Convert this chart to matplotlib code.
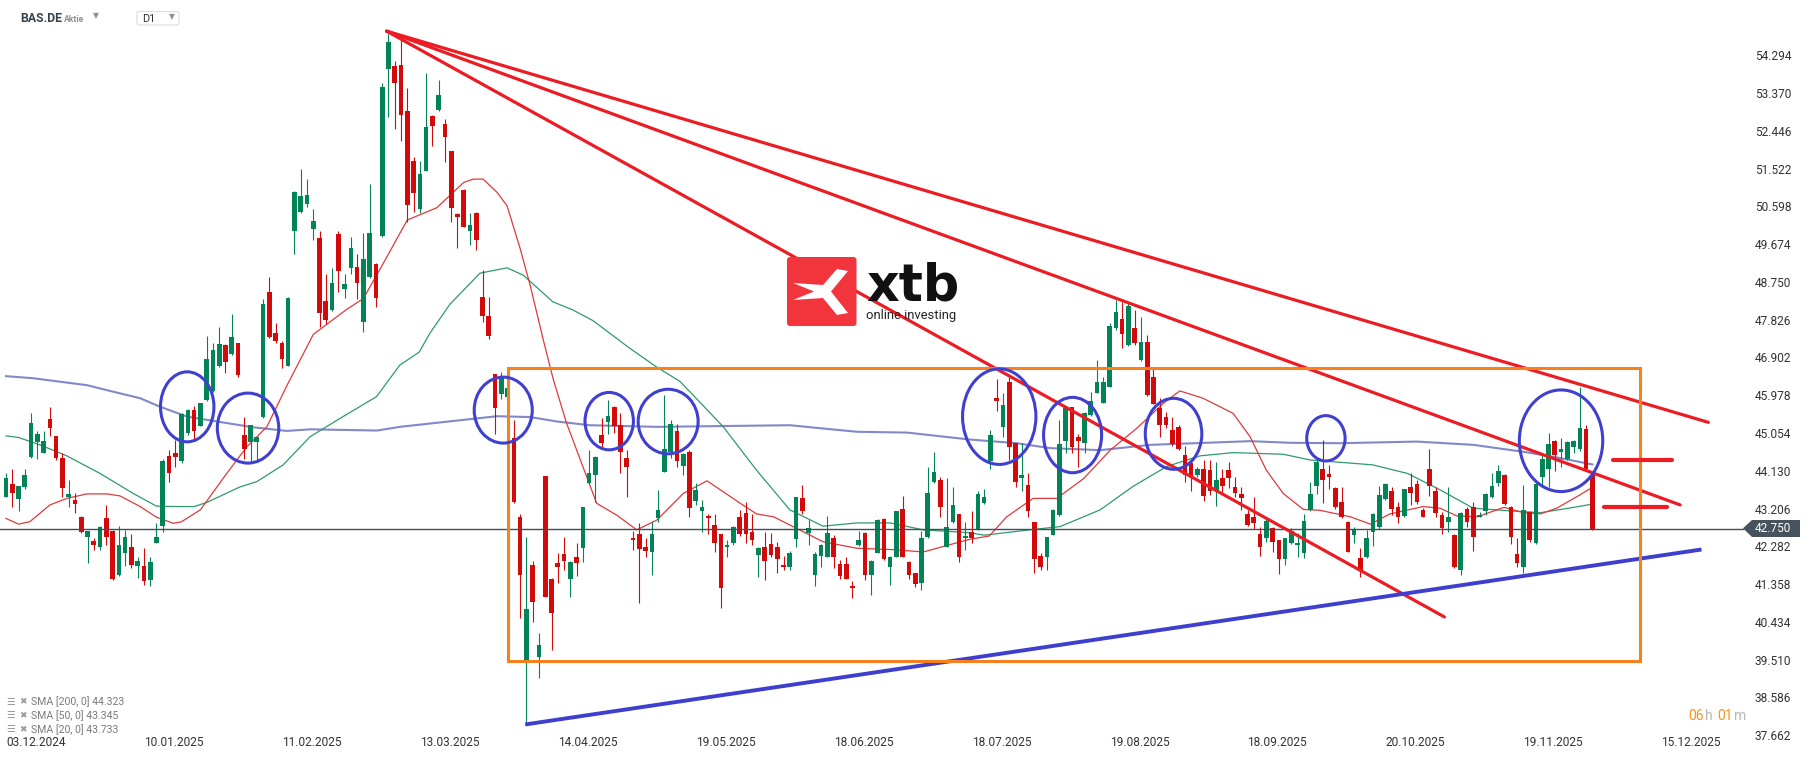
import matplotlib
matplotlib.use("Agg")
import matplotlib.pyplot as plt
from matplotlib.patches import Ellipse, Rectangle, Polygon, FancyBboxPatch
import numpy as np

# daily candles BAS.DE (first candle = 03.12.2024)
opens = [43.53, 43.84, 43.48, 43.76, 44.51, 44.88, 44.61, 45.42, 45.01, 44.47, 43.53, 43.45, 43.04, 42.55, 42.45, 42.31,
         43.01, 42.69, 41.62, 42.15, 42.31, 41.84, 41.84, 41.49, 42.41, 42.81, 44.53, 44.59, 44.41, 45.08, 45.65, 45.27,
         45.89, 46.11, 46.72, 47.24, 47.02, 47.28, 45.04, 44.88, 44.86, 45.48, 48.53, 47.54, 47.28, 46.73, 50.02, 50.49,
         50.69, 50.08, 49.86, 48.33, 48.10, 49.95, 48.62, 49.12, 49.15, 47.81, 48.90, 49.23, 49.91, 54.00, 54.06, 54.10,
         52.96, 51.74, 50.58, 51.50, 52.85, 52.99, 52.64, 51.98, 50.44, 51.04, 50.04, 50.47, 48.42, 47.96, 46.53, 46.04,
         45.98, 44.96, 43.03, 39.54, 41.86, 39.62, 44.04, 41.53, 41.92, 42.12, 41.53, 42.05, 42.27, 43.86, 44.06, 45.04,
         45.37, 45.72, 45.28, 44.49, 42.51, 42.62, 42.29, 42.19, 43.00, 44.14, 44.63, 45.15, 44.28, 44.63, 43.43, 43.17,
         43.06, 42.84, 42.62, 42.29, 42.39, 43.03, 43.14, 42.68, 42.11, 42.29, 42.37, 42.29, 41.86, 41.82, 42.49, 43.49,
         42.65, 41.62, 42.08, 42.06, 42.51, 41.88, 41.88, 41.35, 42.35, 42.65, 41.62, 42.16, 42.98, 41.82, 42.06, 43.22,
         41.94, 41.66, 41.41, 42.55, 43.90, 43.94, 42.31, 42.92, 43.11, 42.51, 42.67, 42.73, 43.37, 44.41, 45.94, 45.23,
         46.34, 44.84, 44.00, 43.82, 42.92, 42.07, 42.05, 42.59, 43.08, 44.90, 45.72, 45.00, 44.84, 45.53, 46.07, 45.83,
         46.22, 47.65, 47.89, 47.24, 47.67, 46.87, 47.32, 46.45, 45.69, 45.47, 45.16, 45.23, 44.55, 44.36, 44.06, 44.22,
         44.18, 43.68, 44.00, 44.18, 43.76, 43.60, 43.11, 43.03, 42.62, 42.51, 42.76, 42.46, 42.00, 42.39, 42.35, 42.16,
         43.21, 43.79, 44.22, 44.08, 43.74, 43.41, 42.92, 42.59, 42.02, 42.05, 42.68, 42.80, 43.47, 43.68, 43.29, 43.06,
         43.76, 43.84, 43.20, 44.22, 43.68, 43.08, 42.92, 42.59, 41.75, 43.22, 43.27, 43.04, 43.19, 43.52, 43.87, 44.06,
         43.29, 42.13, 41.80, 43.16, 42.39, 44.02, 44.22, 44.89, 44.63, 44.45, 44.75, 44.69, 45.18, 44.06]
highs = [44.10, 44.22, 43.80, 44.22, 45.57, 45.15, 45.14, 45.72, 45.02, 44.59, 43.94, 43.61, 43.06, 42.70, 42.51, 42.81,
         43.33, 42.72, 42.81, 42.72, 42.62, 42.06, 42.27, 42.06, 42.90, 44.45, 44.67, 44.92, 45.57, 45.67, 45.75, 45.83,
         47.46, 47.28, 47.69, 47.26, 48.01, 47.30, 45.48, 45.29, 44.99, 48.36, 48.90, 47.78, 47.35, 48.42, 51.01, 51.54,
         51.30, 50.58, 50.04, 48.99, 49.12, 50.04, 48.99, 49.88, 49.47, 49.97, 51.17, 49.25, 53.64, 54.86, 54.19, 54.75,
         53.53, 51.83, 51.74, 53.90, 52.87, 53.72, 52.76, 52.00, 50.46, 51.06, 50.46, 50.49, 49.07, 48.42, 46.54, 46.59,
         46.20, 45.41, 43.12, 42.55, 41.97, 40.19, 44.04, 41.55, 42.15, 42.54, 41.96, 42.39, 43.29, 44.67, 44.53, 45.45,
         45.90, 45.75, 45.57, 44.67, 42.70, 42.90, 42.51, 42.92, 43.70, 46.02, 45.41, 45.31, 44.59, 44.67, 43.86, 43.45,
         43.12, 43.12, 42.63, 42.47, 42.81, 43.21, 43.39, 43.11, 42.29, 42.68, 42.65, 42.43, 42.08, 42.21, 43.53, 43.82,
         42.96, 42.19, 42.37, 43.06, 42.59, 41.98, 42.06, 41.48, 42.70, 42.66, 41.98, 42.98, 43.00, 42.08, 43.19, 43.55,
         41.97, 41.67, 42.70, 44.27, 44.63, 44.02, 44.00, 43.76, 43.12, 42.92, 43.17, 43.68, 43.71, 45.16, 46.40, 46.06,
         46.45, 44.85, 44.84, 44.10, 42.92, 42.16, 42.55, 43.22, 45.41, 45.71, 45.73, 45.07, 45.60, 46.10, 46.87, 46.47,
         47.77, 48.34, 48.30, 48.30, 48.10, 47.93, 47.49, 46.67, 45.94, 45.61, 45.47, 45.28, 44.77, 44.43, 44.25, 44.44,
         44.43, 44.39, 44.22, 44.39, 44.02, 43.76, 43.21, 43.53, 42.80, 43.00, 42.80, 42.47, 42.53, 42.76, 42.65, 43.12,
         43.90, 44.43, 44.93, 44.30, 43.76, 43.76, 42.93, 42.80, 42.27, 42.72, 43.14, 43.79, 43.86, 43.76, 43.41, 43.73,
         44.10, 43.95, 43.25, 44.71, 43.76, 43.16, 43.76, 42.61, 43.16, 43.29, 43.41, 43.16, 43.61, 44.12, 44.30, 44.08,
         43.30, 42.51, 43.82, 43.19, 43.86, 44.55, 45.10, 44.91, 44.96, 44.89, 44.92, 46.22, 45.28, 44.08]
lows = [43.52, 43.29, 43.19, 43.71, 44.49, 44.45, 44.59, 45.02, 44.43, 43.53, 43.29, 43.14, 42.64, 41.92, 42.23, 42.23,
        42.35, 41.49, 41.58, 41.84, 41.78, 41.54, 41.37, 41.35, 42.39, 42.68, 43.90, 44.25, 44.35, 45.04, 44.93, 45.26,
        45.88, 46.09, 46.70, 46.56, 47.00, 46.45, 44.46, 44.37, 44.37, 45.46, 47.42, 47.28, 46.67, 46.73, 49.46, 50.47,
        50.63, 49.82, 47.68, 47.75, 48.08, 48.55, 48.38, 48.97, 48.36, 47.55, 48.88, 48.16, 49.89, 52.81, 52.53, 52.24,
        50.26, 50.49, 50.47, 51.49, 52.12, 52.97, 51.71, 50.26, 49.62, 50.12, 49.70, 49.56, 47.81, 47.40, 45.06, 45.91,
        45.95, 43.37, 40.56, 38.03, 40.47, 39.09, 41.08, 39.78, 41.41, 41.74, 41.09, 41.58, 41.94, 43.84, 43.39, 44.74,
        45.06, 45.10, 44.12, 43.52, 42.23, 40.92, 42.06, 41.62, 42.92, 44.14, 44.47, 44.25, 44.06, 43.04, 43.33, 42.68,
        42.63, 42.19, 40.80, 42.05, 42.35, 42.57, 42.41, 42.35, 41.56, 41.49, 42.06, 41.66, 41.74, 41.75, 42.29, 43.11,
        42.35, 41.35, 41.82, 42.05, 41.78, 41.51, 41.51, 41.05, 42.33, 41.49, 41.13, 42.15, 41.98, 41.37, 42.05, 42.05,
        41.53, 41.33, 41.26, 42.51, 43.87, 43.04, 42.29, 42.90, 41.94, 42.23, 42.39, 42.72, 43.35, 44.22, 45.64, 45.00,
        44.43, 43.78, 43.68, 43.04, 41.67, 41.75, 41.75, 42.59, 43.06, 44.59, 44.59, 44.25, 44.59, 45.51, 46.06, 45.82,
        46.21, 47.62, 47.18, 47.22, 47.24, 46.86, 46.00, 45.80, 45.00, 45.20, 44.77, 44.67, 43.90, 43.68, 44.02, 43.43,
        43.57, 43.30, 43.61, 43.74, 43.53, 43.21, 42.81, 42.73, 42.08, 42.43, 42.19, 41.64, 41.86, 42.37, 42.06, 42.02,
        43.19, 43.60, 43.38, 43.71, 43.22, 43.00, 42.18, 42.39, 41.57, 42.02, 42.33, 42.73, 43.45, 43.08, 42.88, 43.04,
        43.33, 43.35, 43.03, 43.55, 43.03, 42.63, 42.68, 41.78, 41.62, 42.80, 42.21, 43.03, 43.08, 43.49, 43.79, 43.33,
        42.37, 41.82, 41.67, 42.43, 42.37, 43.79, 43.78, 44.17, 44.25, 44.43, 44.59, 44.66, 44.18, 42.72]
closes = [44.00, 43.61, 43.79, 44.06, 45.33, 45.06, 44.89, 45.20, 44.49, 43.75, 43.60, 43.35, 42.68, 42.69, 42.35, 42.80,
          42.55, 41.51, 42.35, 42.55, 41.86, 41.96, 41.47, 41.94, 42.55, 44.41, 44.10, 44.51, 45.55, 45.65, 45.15, 45.82,
          46.91, 47.11, 47.26, 46.82, 47.43, 46.50, 44.71, 45.28, 44.99, 48.25, 47.43, 47.33, 46.91, 48.39, 50.99, 50.89,
          50.91, 50.28, 48.03, 47.85, 48.77, 49.06, 48.73, 49.62, 48.77, 49.34, 49.99, 48.40, 53.55, 54.65, 53.64, 52.88,
          50.67, 50.95, 51.42, 52.57, 52.59, 53.36, 52.33, 50.60, 50.37, 50.14, 50.17, 49.82, 47.94, 47.46, 45.71, 46.45,
          46.18, 43.39, 41.62, 40.78, 40.96, 39.90, 41.09, 40.68, 41.80, 41.97, 41.94, 41.90, 43.27, 44.10, 44.51, 44.85,
          45.50, 45.26, 44.63, 44.25, 42.46, 42.24, 42.21, 42.63, 43.21, 44.69, 45.31, 44.41, 44.58, 43.25, 43.70, 43.27,
          43.00, 42.39, 41.31, 42.35, 42.78, 42.62, 42.62, 42.46, 42.27, 41.97, 42.11, 42.00, 41.80, 42.16, 43.52, 43.17,
          42.76, 42.13, 42.35, 42.65, 42.05, 41.58, 41.53, 41.29, 42.47, 41.62, 41.97, 42.95, 42.00, 42.06, 43.17, 42.06,
          41.62, 41.40, 42.51, 43.61, 44.14, 43.27, 42.78, 43.33, 42.06, 42.57, 42.51, 43.60, 43.52, 45.04, 45.88, 45.77,
          44.75, 43.90, 44.06, 43.19, 42.00, 41.80, 42.54, 43.21, 44.82, 45.69, 44.74, 44.90, 45.59, 45.88, 46.34, 46.34,
          47.71, 48.06, 47.51, 48.20, 47.28, 47.32, 46.02, 45.81, 45.28, 45.28, 44.82, 44.69, 44.06, 44.02, 44.22, 43.55,
          43.68, 43.95, 43.79, 43.98, 43.61, 43.49, 42.84, 42.88, 42.29, 42.94, 42.43, 42.00, 42.51, 42.70, 42.39, 42.94,
          43.60, 44.39, 43.95, 44.02, 43.27, 43.04, 42.19, 42.73, 41.72, 42.51, 43.12, 43.57, 43.84, 43.22, 43.04, 43.71,
          43.63, 43.41, 43.04, 43.79, 43.14, 42.76, 43.03, 41.82, 43.14, 42.92, 42.55, 43.08, 43.60, 43.79, 44.17, 43.35,
          42.54, 41.92, 43.20, 42.46, 43.84, 44.45, 44.83, 44.55, 44.69, 44.88, 44.89, 45.20, 44.20, 42.75]

# moving averages (candle index, value)
sma20_x = [0, 2, 3.8, 7, 9.7, 12.9, 16.1, 18.2, 21.4, 24, 26.7, 28, 31, 35.2, 38.4, 41.6, 44.8, 49, 54.3, 57,
           60.2, 64, 68.7, 73, 74.5, 76.1, 78.3, 79.9, 82, 83.6, 85.7, 87.3, 89.4, 94.2, 97.4, 100.6, 103.8, 108,
           111.8, 117.1, 119.7, 122.4, 125, 130.3, 135.7, 141, 146.3, 153.7, 156.8, 159.6, 163.8, 167.6, 171.9,
           176.1, 180.3, 184.6, 187.2, 190.9, 195.7, 198.4, 201, 203.7, 206.9, 209.5, 214.4, 217.6, 220.7, 226,
           228.7, 231.4, 234.6, 238.9, 242, 244.7, 247.3, 250.5, 253]
sma20 = [43.00, 42.86, 42.92, 43.33, 43.49, 43.60, 43.60, 43.55, 43.29, 43.03, 42.88, 42.92, 43.21, 44.10, 44.75,
         45.24, 46.25, 47.50, 48.11, 48.38, 49.25, 50.30, 50.60, 51.22, 51.30, 51.30, 50.98, 50.65, 49.60, 48.70,
         47.36, 46.39, 45.33, 43.37, 43.08, 42.72, 42.96, 43.61, 43.92, 43.37, 43.11, 43.04, 42.84, 42.43, 42.27,
         42.24, 42.18, 42.49, 42.57, 43.04, 43.49, 43.49, 43.98, 44.67, 45.20, 45.82, 46.12, 45.94, 45.57, 45.00,
         44.18, 43.61, 43.22, 43.20, 43.04, 42.86, 43.11, 43.29, 43.25, 43.06, 43.04, 43.27, 43.14, 43.11, 43.25,
         43.53, 43.76]
sma50_x = [0, 2, 5.4, 9.7, 15, 20.3, 24, 27.7, 30, 32, 37.3, 40, 44.2, 48.5, 53.3, 59.1, 62.8, 65.9, 67.6, 70.8,
           75.6, 79.9, 82.5, 87.2, 90.4, 93.6, 99.5, 103.8, 107.5, 114.4, 119.7, 125, 130.3, 135.7, 141, 146.3,
           153.7, 156, 163.8, 168.1, 174.5, 179.7, 185.1, 190.4, 195.7, 203.7, 208, 218, 223.5, 228.7, 234, 239.4,
           244.7, 250, 253]
sma50 = [45.02, 44.98, 44.80, 44.53, 44.10, 43.61, 43.30, 43.29, 43.29, 43.39, 43.77, 43.90, 44.31, 45.00, 45.45,
         45.98, 46.75, 47.07, 47.53, 48.24, 49.00, 49.13, 48.95, 48.30, 48.10, 47.84, 47.16, 46.70, 46.35, 45.24,
         44.18, 43.21, 42.81, 42.89, 42.89, 42.72, 42.65, 42.59, 42.73, 42.80, 43.21, 43.78, 44.27, 44.53, 44.61,
         44.57, 44.43, 44.31, 44.10, 43.70, 43.25, 43.19, 43.14, 43.27, 43.35]
sma200_x = [0, 4.3, 12.9, 17.1, 21.4, 24.6, 28.9, 33.7, 39.4, 44.8, 48.5, 59.2, 62.8, 72.9, 78.3, 83.6, 87.9, 93.1,
            103.8, 125, 130.3, 135.7, 143.7, 153.7, 161.2, 166.5, 174.5, 182.5, 198.4, 204.8, 212.8, 225, 234, 242,
            247.4, 253]
sma200 = [46.48, 46.43, 46.26, 46.10, 45.94, 45.73, 45.49, 45.37, 45.23, 45.14, 45.18, 45.15, 45.24, 45.41, 45.50,
          45.48, 45.37, 45.28, 45.24, 45.28, 45.20, 45.12, 45.10, 44.93, 44.84, 44.72, 44.67, 44.80, 44.89, 44.85,
          44.84, 44.88, 44.80, 44.63, 44.49, 44.32]

date_labels = ["03.12.2024", "10.01.2025", "11.02.2025", "13.03.2025", "14.04.2025", "19.05.2025", "18.06.2025",
               "18.07.2025", "19.08.2025", "18.09.2025", "20.10.2025", "19.11.2025", "15.12.2025"]
date_pos = [0, 22, 44, 66, 88, 110, 132, 154, 176, 198, 220, 242, 264]
price_ticks = [37.662, 38.586, 39.510, 40.434, 41.358, 42.282, 43.206, 44.130, 45.054, 45.978, 46.902,
               47.826, 48.750, 49.674, 50.598, 51.522, 52.446, 53.370, 54.294]
last_price = 42.750
legend_rows = ["SMA [200, 0] 44.323", "SMA [50, 0] 43.345", "SMA [20, 0] 43.733"]

# drawings on the chart (candle index / price)
trend_origin = (60.7, 54.92)
trend_ends = [(271.5, 45.35), (267.0, 43.33), (229.4, 40.59)]
support = [(82.8, 37.96), (270.4, 42.24)]
box = (80.1, 39.51, 260.6, 46.69)
levels = [(256.3, 265.7, 44.43), (254.9, 264.9, 43.27)]
circles = [(28.9, 45.73, 4.26, 0.856), (38.6, 45.21, 4.90, 0.856), (79.3, 45.65, 4.63, 0.807),
           (96.2, 45.38, 3.86, 0.702), (105.6, 45.37, 4.78, 0.790), (158.4, 45.49, 5.85, 1.169),
           (170.1, 45.04, 4.63, 0.922), (186.2, 45.07, 4.51, 0.868), (210.5, 44.96, 3.06, 0.555),
           (248.0, 44.90, 6.65, 1.243)]

GREEN = "#038457"
RED = "#d40a0a"
W, H = 1815, 761

fig = plt.figure(figsize=(W / 100, H / 100), dpi=100)
ax = fig.add_axes([0, 0, 1, 1])
ax.set_xlim(-0.957, 288.5)
ax.set_ylim(37.066, 55.682)
ax.axis("off")

# SMAs
ax.plot(sma200_x, sma200, color="#8189c9", lw=1.5, zorder=1)
ax.plot(sma50_x, sma50, color="#2f9a6c", lw=0.9, zorder=1)
ax.plot(sma20_x, sma20, color="#e0393b", lw=0.9, zorder=1)

# candles
o = np.array(opens); h = np.array(highs); l = np.array(lows); c = np.array(closes)
x = np.arange(len(c))
col = np.where(c >= o, GREEN, RED)
ax.vlines(x, l, h, colors=col, lw=0.8, zorder=2)
ax.bar(x, np.maximum(np.abs(c - o), 0.03), bottom=np.minimum(o, c), width=0.74, color=col, lw=0, zorder=3)

# last price line
ax.axhline(last_price, xmin=0, xmax=1743 / W, color="#3e4f5c", lw=1.0, zorder=4)

# drawings
for ex, ey in trend_ends:
    ax.plot([trend_origin[0], ex], [trend_origin[1], ey], color="#ec1c24", lw=2.3, solid_capstyle="round", zorder=6)
ax.plot([support[0][0], support[1][0]], [support[0][1], support[1][1]], color="#3e3ecf", lw=2.8,
        solid_capstyle="butt", zorder=6)
ax.add_patch(Rectangle((box[0], box[1]), box[2] - box[0], box[3] - box[1], fill=False,
                       edgecolor="#f7811f", lw=2.2, zorder=6))
for x0, x1, y in levels:
    ax.plot([x0, x1], [y, y], color="#ec1c24", lw=3.0, solid_capstyle="round", zorder=6)
for cx, cy, rx, ry in circles:
    ax.add_patch(Ellipse((cx, cy), 2 * rx, 2 * ry, fill=False, edgecolor="#4040d0", lw=2.2, zorder=7))

# axis labels
tf = ax.get_xaxis_transform()
for lab, pos in zip(date_labels, date_pos):
    ax.text(pos, 1 - 742 / H, lab, transform=tf, ha="left", va="center", fontsize=8.6,
            family="Roboto", color="#333333")
for p in price_ticks:
    ax.text(278.9, p, f"{p:.3f}", ha="left", va="center", fontsize=8.6, family="Roboto", color="#333333")

# overlay in pixel units for the chrome
ov = fig.add_axes([0, 0, 1, 1])
ov.set_xlim(0, W)
ov.set_ylim(H, 0)
ov.axis("off")
ov.patch.set_alpha(0)

# last price tag
ov.add_patch(Polygon([(1743, 528.3), (1752, 520), (1800, 520), (1800, 537), (1752, 537)],
                     closed=True, facecolor="#46535d", edgecolor="none", zorder=5))
ov.text(1755, 528.8, f"{last_price:.3f}", ha="left", va="center", fontsize=8.6, family="Roboto",
        color="white", zorder=6)

# header
ov.text(20, 19, "BAS.DE", fontsize=8.8, fontweight="bold", family="Roboto", color="#34444f", va="center")
ov.text(64, 19.5, "Aktie", fontsize=6.2, fontweight="bold", family="Roboto", color="#8b9196", va="center")
ov.text(92.5, 16, "\u25bc", fontsize=5.5, family="DejaVu Sans", color="#8b9196", va="center")
ov.add_patch(FancyBboxPatch((137, 11.5), 42, 13.5, boxstyle="round,pad=0,rounding_size=2",
                            facecolor="white", edgecolor="#d9dde1", lw=0.8))
ov.text(142.5, 18.5, "D1", fontsize=7.8, family="Roboto", color="#333333", va="center")
ov.text(168.5, 16.5, "\u25bc", fontsize=5.5, family="DejaVu Sans", color="#8b9196", va="center")

# legend
for i, row in enumerate(legend_rows):
    yy = 701.7 + i * 13.8
    ov.text(6, yy, "\u2630", fontsize=7, family="DejaVu Sans", color="#9a9a9a", va="center")
    ov.text(19, yy, "\u2716", fontsize=6.5, family="DejaVu Sans", color="#9a9a9a", va="center")
    ov.text(30.6, yy, row, fontsize=7.6, family="Roboto", color="#7a7a7a", va="center")

# timer
ov.text(1688, 716, "06", fontsize=10, family="Roboto", color="#f7941d", va="center")
ov.text(1705, 716, "h", fontsize=10, family="Roboto", color="#b8b8b8", va="center")
ov.text(1717, 716, "01", fontsize=10, family="Roboto", color="#f7941d", va="center")
ov.text(1734, 716, "m", fontsize=10, family="Roboto", color="#b8b8b8", va="center")

# xtb logo
ov.add_patch(FancyBboxPatch((787, 257), 69.5, 69, boxstyle="round,pad=0,rounding_size=3",
                            facecolor="#f2343d", edgecolor="none", zorder=10))
lx, ly = 787, 257
ov.add_patch(Polygon([(lx + 50, ly + 12), (lx + 61, ly + 14), (lx + 44, ly + 34.5), (lx + 61, ly + 56),
                      (lx + 50, ly + 58), (lx + 36, ly + 41), (lx + 6, ly + 43), (lx + 27, ly + 34.5),
                      (lx + 6, ly + 26), (lx + 36, ly + 28)],
                     closed=True, facecolor="white", edgecolor="none", zorder=11))
ov.text(866, 300.5, "xtb", fontsize=36.5, fontweight="bold", family="DejaVu Sans", color="#111111",
        va="baseline", ha="left", zorder=10)
ov.text(866, 315.5, "online investing", fontsize=9.4, family="Roboto", color="#222222", va="center",
        ha="left", zorder=10)

fig.savefig("out.png", dpi=100, facecolor="white")
